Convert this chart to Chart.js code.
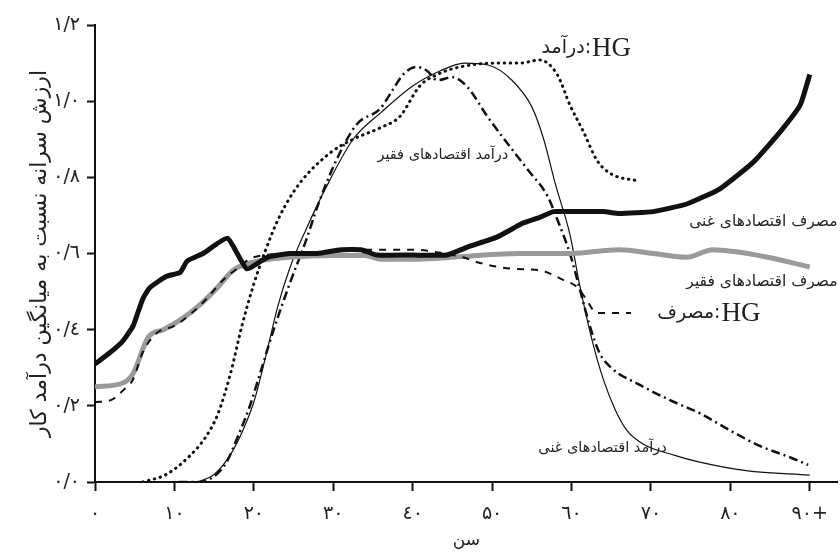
<!DOCTYPE html>
<html>
<head>
<meta charset="utf-8">
<script src="https://cdn.jsdelivr.net/npm/chart.js@4.4.0/dist/chart.umd.min.js"></script>
<style>
body { margin: 0; background: #fff; }
</style>
</head>
<body>
<canvas id="chart" width="840" height="553"></canvas>
<script>
// tick labels (Persian digits, "/" as decimal mark)
const xTickLabels = ['۰', '۱۰', '۲۰', '۳۰', '٤۰', '۵۰', '٦۰', '۷۰', '۸۰', '۹۰+'];
const yTickLabels = ['۰/۰', '۰/۲', '۰/٤', '۰/٦', '۰/۸', '۱/۰', '۱/۲'];

// consumption, rich economies (thick black)
const richConsAges = [0, 1.9, 3.5, 4.8, 6, 6.9, 9, 10.7, 11.6, 13.6, 16.7, 19.1, 21.7, 24.5, 28, 31, 33.5, 35.5, 40, 44.3, 46.9, 50.6, 53.9, 56, 57.7, 59.4, 64, 66, 70.3, 74.5, 78.7, 82.9, 86.3, 88.8, 90];
const richConsVals = [0.31, 0.34, 0.37, 0.41, 0.48, 0.51, 0.54, 0.55, 0.58, 0.60, 0.64, 0.56, 0.59, 0.60, 0.60, 0.61, 0.61, 0.596, 0.596, 0.596, 0.617, 0.643, 0.68, 0.695, 0.71, 0.71, 0.71, 0.705, 0.71, 0.73, 0.77, 0.84, 0.92, 0.99, 1.07];

// consumption, poor economies (thick grey)
const poorConsAges = [0, 3.5, 4.8, 6.7, 8.6, 10.7, 13.2, 15.4, 17.4, 19.5, 24.5, 30, 34, 36, 40, 45, 48, 53.5, 60, 66, 70.3, 74.5, 77.8, 80.5, 84.7, 90];
const poorConsVals = [0.25, 0.26, 0.285, 0.38, 0.40, 0.425, 0.465, 0.51, 0.556, 0.575, 0.59, 0.595, 0.595, 0.585, 0.585, 0.59, 0.595, 0.60, 0.60, 0.61, 0.60, 0.59, 0.61, 0.605, 0.59, 0.565];

// consumption, hunter-gatherers (dashed)
const hgConsAges = [0, 2, 3.5, 4.8, 6, 7.7, 10, 12, 14, 16.1, 17.9, 19.9, 25, 30, 35, 40, 44, 46.3, 48.5, 52.6, 56, 59, 60.7, 61.7, 63.2, 67.5];
const hgConsVals = [0.21, 0.215, 0.24, 0.27, 0.34, 0.39, 0.41, 0.44, 0.48, 0.53, 0.56, 0.59, 0.60, 0.605, 0.61, 0.61, 0.60, 0.59, 0.575, 0.56, 0.556, 0.53, 0.512, 0.485, 0.444, 0.444];

// labour income, rich economies (thin solid)
const richIncAges = [13, 15, 17, 18.5, 20, 21.5, 23, 24.5, 26.5, 29.5, 32.5, 36, 40, 43.5, 46.5, 49.5, 52.5, 55, 56.5, 58, 59.8, 61, 62.5, 64, 65.5, 67, 69, 73, 76, 82, 90];
const richIncVals = [0, 0.02, 0.07, 0.13, 0.21, 0.33, 0.46, 0.56, 0.66, 0.79, 0.90, 0.97, 1.04, 1.08, 1.10, 1.095, 1.055, 0.985, 0.90, 0.78, 0.65, 0.52, 0.38, 0.27, 0.19, 0.135, 0.10, 0.07, 0.053, 0.03, 0.018];

// labour income, poor economies (dash-dot)
const poorIncAges = [10.5, 13, 15, 16.5, 18, 19.5, 21, 22.5, 24.5, 26.5, 28.3, 30.5, 33, 35.9, 37.5, 38.8, 40.5, 41.8, 43.1, 45, 46.9, 49.4, 51.9, 54.5, 57, 58.2, 59.8, 61, 62.3, 63.5, 65, 68.6, 72.4, 76.2, 80, 83.7, 87.5, 89.8];
const poorIncVals = [0, 0, 0.015, 0.05, 0.12, 0.2, 0.3, 0.4, 0.52, 0.63, 0.74, 0.85, 0.94, 0.98, 1.03, 1.07, 1.09, 1.08, 1.055, 1.063, 1.037, 0.96, 0.89, 0.82, 0.75, 0.69, 0.60, 0.51, 0.41, 0.34, 0.30, 0.255, 0.215, 0.18, 0.135, 0.095, 0.065, 0.045];

// labour income, hunter-gatherers (dotted)
const hgIncAges = [6, 9, 12, 14, 15.5, 17, 18.5, 20, 21.5, 23.3, 25.8, 29.6, 32.5, 35.9, 38.4, 40.9, 43.1, 46, 50.6, 53.5, 56, 58.2, 59.8, 61.5, 63.2, 64.9, 68.5];
const hgIncVals = [0, 0.02, 0.07, 0.12, 0.18, 0.28, 0.41, 0.52, 0.61, 0.70, 0.785, 0.864, 0.90, 0.93, 0.96, 1.04, 1.07, 1.09, 1.10, 1.10, 1.108, 1.07, 0.99, 0.92, 0.845, 0.81, 0.79];

// in-chart labels
const labelTexts = ['درآمد اقتصادهای فقیر', 'مصرف اقتصادهای غنی', 'مصرف اقتصادهای فقیر', 'درآمد اقتصادهای غنی', ':درآمد', ':مصرف'];
const labelAges = [43.8, 93.5, 93.5, 63.9, 67.5, 83.8];
const labelVals = [0.858, 0.682, 0.525, 0.089, 1.14, 0.444];
const labelAlign = ['center', 'right', 'right', 'center', 'right', 'right'];
const labelSizes = [14.5, 15.5, 15.5, 14.5, 19, 19];
const labelHG = [false, false, false, false, true, true];

const pts = (ages, vals) => ages.map((a, i) => ({x: a, y: vals[i]}));

const persianFont = "'DejaVu Sans', sans-serif";

const labelPlugin = {
    id: 'lineLabels',
    afterDatasetsDraw(chart) {
        const ctx = chart.ctx;
        const xs = chart.scales.x, ys = chart.scales.y;
        ctx.save();
        ctx.fillStyle = '#222';
        ctx.textBaseline = 'middle';
        labelTexts.forEach((t, i) => {
            let px = xs.getPixelForValue(labelAges[i]);
            const py = ys.getPixelForValue(labelVals[i]);
            if (labelHG[i]) {
                ctx.direction = 'ltr';
                ctx.font = "27px 'Liberation Serif', serif";
                ctx.textAlign = 'right';
                ctx.fillText('HG', px, py + 1);
                px -= ctx.measureText('HG').width + 1;
            }
            ctx.font = labelSizes[i] + 'px ' + persianFont;
            ctx.direction = 'rtl';
            ctx.textAlign = labelAlign[i];
            ctx.fillText(t, px, py);
        });
        ctx.restore();
    }
};

const chartData = {
    datasets: [
    {
        label: 'rich consumption',
        data: pts(richConsAges, richConsVals),
        borderColor: '#111',
        borderWidth: 5,
        borderJoinStyle: 'round',
        tension: 0.15
    },
    {
        label: 'HG consumption',
        data: pts(hgConsAges, hgConsVals),
        borderColor: '#111',
        borderWidth: 2,
        borderDash: [7, 7],
        cubicInterpolationMode: 'monotone'
    },
    {
        label: 'poor consumption',
        data: pts(poorConsAges, poorConsVals),
        borderColor: '#9a9a9a',
        borderWidth: 5,
        cubicInterpolationMode: 'monotone'
    },
    {
        label: 'rich income',
        data: pts(richIncAges, richIncVals),
        borderColor: '#111',
        borderWidth: 1.2,
        cubicInterpolationMode: 'monotone'
    },
    {
        label: 'poor income',
        data: pts(poorIncAges, poorIncVals),
        borderColor: '#111',
        borderWidth: 2.5,
        borderDash: [9, 4, 2, 4],
        cubicInterpolationMode: 'monotone'
    },
    {
        label: 'HG income',
        data: pts(hgIncAges, hgIncVals),
        borderColor: '#111',
        borderWidth: 3,
        borderDash: [0.5, 5.5],
        borderCapStyle: 'round',
        cubicInterpolationMode: 'monotone'
    }]
};

const config = {
    type: 'line',
    data: chartData,
    options: {
        responsive: false,
        animation: false,
        devicePixelRatio: 1,
        layout: { padding: { top: 25, right: 2, left: 0, bottom: 0 } },
        elements: { point: { radius: 0 } },
        plugins: { legend: { display: false }, tooltip: { enabled: false } },
        scales: {
            x: {
                type: 'linear',
                min: 0,
                max: 93.5,
                afterFit: s => { s.height = 71; },
                border: { color: '#111', width: 2 },
                grid: { drawOnChartArea: false, drawTicks: true, tickLength: 9, tickWidth: 2, tickColor: '#111' },
                ticks: {
                    stepSize: 10,
                    includeBounds: false,
                    maxRotation: 0,
                    padding: 12,
                    color: '#222',
                    font: { family: persianFont, size: 19 },
                    callback: v => xTickLabels[Math.round(v / 10)]
                },
                title: {
                    display: true,
                    text: 'سن',
                    color: '#222',
                    font: { family: persianFont, size: 17 },
                    padding: { top: 0, bottom: 2 }
                }
            },
            y: {
                min: 0,
                max: 1.2,
                afterFit: s => { s.width = 95; },
                border: { color: '#111', width: 2 },
                grid: { drawOnChartArea: false, drawTicks: true, tickLength: 8, tickWidth: 2, tickColor: '#111' },
                ticks: {
                    stepSize: 0.2,
                    padding: 7,
                    color: '#222',
                    font: { family: persianFont, size: 19 },
                    callback: v => yTickLabels[Math.round(v / 0.2)]
                },
                title: {
                    display: true,
                    text: 'ارزش سرانه نسبت به میانگین درآمد کار',
                    color: '#222',
                    font: { family: persianFont, size: 22 },
                    padding: { top: 27, bottom: 0 }
                }
            }
        }
    },
    plugins: [labelPlugin]
};

const chart = new Chart(document.getElementById('chart'), config);
</script>
</body>
</html>
